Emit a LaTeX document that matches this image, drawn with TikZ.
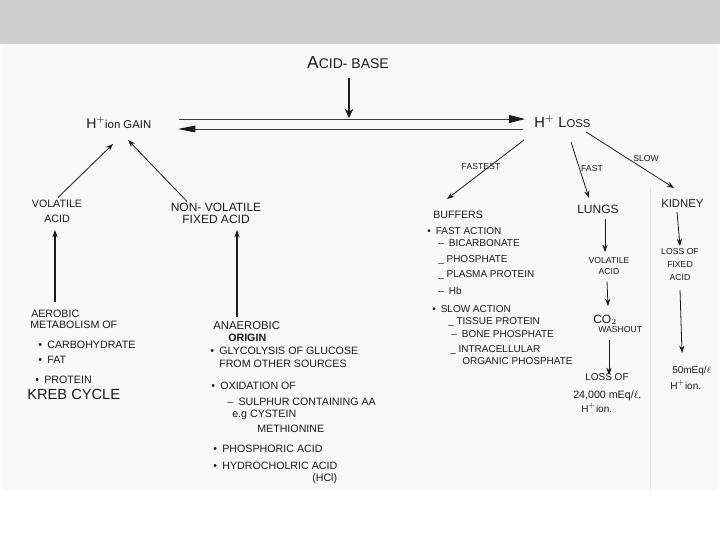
\documentclass[tikz,border=0pt]{standalone}
\usepackage{fontspec}
\setmainfont{Liberation Sans}
\usetikzlibrary{arrows.meta,calc}
\definecolor{ink}{HTML}{1A1A1A}
\definecolor{band}{HTML}{CFCFCF}
\definecolor{paper}{HTML}{F8F8F8}
\begin{document}
\begin{tikzpicture}[x=0.75pt,y=-0.75pt,
  lbl/.style={inner sep=0pt,text=ink,font=\fontsize{8}{10}\selectfont},
  bl/.style={lbl,anchor=base west},
  bb/.style={lbl,anchor=base west,font=\fontsize{7.5}{9}\selectfont},
  sm/.style={inner sep=0pt,text=ink,font=\fontsize{6.5}{8}\selectfont},
  arr/.style={draw=ink,line width=0.6pt,-{Stealth[length=5.5pt,width=4pt]}},
  thickarr/.style={draw=ink,line width=1.6pt,-{Stealth[length=7pt,width=6.5pt]}},
  eqline/.style={draw=ink!85,line width=0.7pt}]
\useasboundingbox (0,0) rectangle (720,540);
\fill[white] (0,0) rectangle (720,540);
\fill[band] (0,0) rectangle (720,44);
\fill[paper] (3,44) rectangle (717,490);
\draw[gray!18,line width=0.4pt] (650,187) -- (650,490);

% title and equilibrium
\node[lbl,anchor=base] (title) at (348,68) {\fontsize{13}{13}\selectfont A\fontsize{10.5}{12}\selectfont CID- BASE};
\coordinate (eqc) at (349,118);
\draw[thickarr] ($(title.base)+(1,10)$) -- (eqc);
\node[bl] (gain) at (86,128) {\fontsize{10.5}{12}\selectfont H$^{+}$\fontsize{8.5}{10}\selectfont ion GAIN};
\node[bl] (loss) at (534,127) {\fontsize{11}{12}\selectfont H$^{+}$ L\fontsize{8.5}{10}\selectfont OSS};
\draw[eqline,-{Triangle[length=12pt,width=6pt,color=ink]}] ($(gain.base west)+(93,-9)$) -- ($(loss.base west)+(-9,-8)$);
\draw[eqline,-{Triangle[length=13pt,width=5pt,color=ink]}] ($(loss.base west)+(-11,2)$) -- ($(gain.base west)+(92,1)$);

% left side
\node[lbl,align=center,font=\fontsize{8}{11.25}\selectfont] (vol) at (57,211.5) {VOLATILE\\ACID};
\node[lbl,align=center,font=\fontsize{9}{9}\selectfont] (nonvol) at (216,213.5) {NON- VOLATILE\\FIXED ACID};
\draw[arr] ($(vol)+(1,-14)$) -- ($(gain.base west)+(27,16)$);
\draw[arr] ($(nonvol)+(-29,-12)$) -- ($(gain.base west)+(42,12)$);

\node[bl] (a1) at (31,317) {AEROBIC};
\node[bl] (a2) at (30,328) {METABOLISM OF};
\node[bl] (a3) at (38,348) {\textbullet\enspace CARBOHYDRATE};
\node[bl] (a4) at (38,363) {\textbullet\enspace FAT};
\node[bl] (a5) at (35,383) {\textbullet\enspace PROTEIN};
\node[bl,font=\fontsize{11}{12}\selectfont] (a6) at (27,399) {KREB CYCLE};
\draw[arr,line width=0.9pt] ($(a1.base west)+(24,-15)$) -- ($(vol)+(-2,18.5)$);

\node[bl,font=\fontsize{8.5}{10}\selectfont] (b1) at (213,329) {ANAEROBIC};
\node[bl] (b2) at (228,341) {\textbf{ORIGIN}};
\node[bl] (b3) at (210,354) {\textbullet\enspace GLYCOLYSIS OF GLUCOSE};
\node[bl] (b4) at (219,367) {FROM OTHER SOURCES};
\node[bl] (b5) at (211,389) {\textbullet\enspace OXIDATION OF};
\node[bl] (b6) at (227,405) {–\enspace SULPHUR CONTAINING AA};
\node[bl] (b7) at (232,417) {e.g CYSTEIN};
\node[bl] (b8) at (257,432) {METHIONINE};
\node[bl] (b9) at (213,452) {\textbullet\enspace PHOSPHORIC ACID};
\node[bl] (b10) at (213,469) {\textbullet\enspace HYDROCHOLRIC ACID};
\node[bl] (b11) at (312,481) {(HCl)};
\draw[arr,line width=1.5pt] ($(b1.base west)+(24,-12)$) -- ($(nonvol)+(21,16.5)$);

% buffers
\node[bl] (buf) at (433,218) {BUFFERS};
\node[bb] (c1) at (427,234) {\textbullet\enspace FAST ACTION};
\node[bb] (c2) at (438,246) {–\enspace BICARBONATE};
\node[bb] (c3) at (438,262) {\_ PHOSPHATE};
\node[bb] (c4) at (438,277) {\_ PLASMA PROTEIN};
\node[bb] (c5) at (438,294) {–\enspace Hb};
\node[bb] (c6) at (432,312) {\textbullet\enspace SLOW ACTION};
\node[bb] (c7) at (448,324) {\_ TISSUE PROTEIN};
\node[bb] (c8) at (451,337) {–\enspace BONE PHOSPHATE};
\node[bb] (c9) at (450,352) {\_ INTRACELLULAR};
\node[bb] (c10) at (462,364) {ORGANIC PHOSPHATE};
\draw[arr] ($(loss.base west)+(-10,13)$) -- ($(buf.base west)+(14,-19)$);
\node[sm] (fastest) at (481,166.5) {FASTEST};

% lungs
\node[bl,font=\fontsize{9}{10}\selectfont] (lungs) at (577,213) {LUNGS};
\draw[arr] ($(loss.base west)+(37,15)$) -- ($(lungs.base west)+(12,-15)$);
\node[sm] (fast) at (592,169) {FAST};
\node[sm,align=center,font=\fontsize{6.5}{8.25}\selectfont] (lv) at (609,266.5) {VOLATILE\\ACID};
\draw[arr] ($(lungs.base west)+(28,6)$) -- ($(lv)+(-4,-14.5)$);
\node[bl,font=\fontsize{9}{10}\selectfont] (co2) at (593,323) {CO$_2$};
\draw[arr] ($(lv)+(-2,15)$) -- ($(co2.base west)+(15,-17)$);
\node[sm,anchor=base west] (wash) at (598,332) {WASHOUT};
\node[bb] (l1) at (585,380) {LOSS OF};
\node[bl] (l2) at (573,398) {24,000 mEq/$\ell$.};
\node[bb] (l3) at (581,412) {H$^{+}$ion.};
\draw[arr] ($(wash.base west)+(11,8)$) -- ($(l1.base west)+(24,-5)$);

% kidney
\node[bl,font=\fontsize{8.5}{10}\selectfont] (kidney) at (661,207) {KIDNEY};
\draw[arr] ($(loss.base west)+(52,5)$) -- ($(kidney.base west)+(13,-19)$);
\node[sm] (slow) at (646,159) {SLOW};
\node[sm,align=center,font=\fontsize{6.5}{9.4}\selectfont] (kl) at (680,264.5) {LOSS OF\\FIXED\\ACID};
\draw[arr] ($(kidney.base west)+(16,5)$) -- ($(kl)+(0,-18.5)$);
\node[bb] (k50) at (672,373) {50mEq/$\ell$};
\node[bb] (k3) at (670,389) {H$^{+}$ion.};
\draw[arr] ($(kl)+(0,25.5)$) -- ($(k50.base west)+(10,-20)$);
\end{tikzpicture}
\end{document}
